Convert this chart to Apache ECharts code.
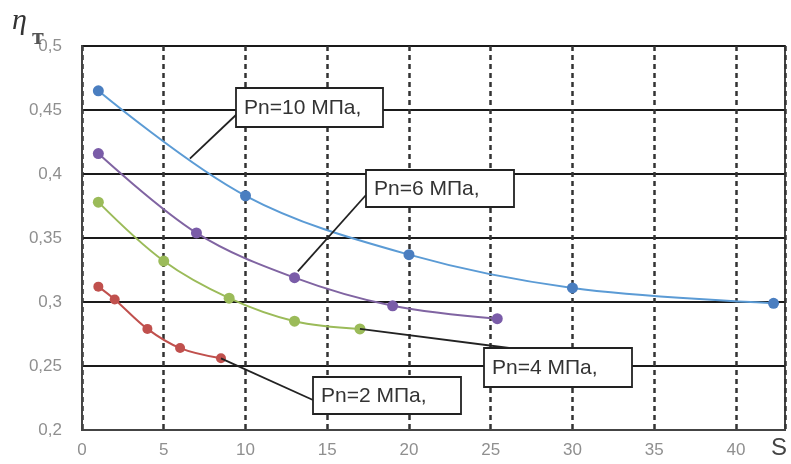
<!DOCTYPE html>
<html>
<head>
<meta charset="utf-8">
<script src="https://cdn.jsdelivr.net/npm/echarts@6/dist/echarts.min.js"></script>
<style>
  html, body { margin: 0; padding: 0; background: #ffffff; }
  #chart { width: 791px; height: 464px; }
</style>
</head>
<body>
<div id="chart"></div>
<script>
// Efficiency ηт versus S for four pressure levels
const seriesNames = ['Pn=10 МПа,', 'Pn=6 МПа,', 'Pn=4 МПа,', 'Pn=2 МПа,'];

const p10 = [[1, 0.465], [10, 0.383], [20, 0.337], [30, 0.311], [42.3, 0.299]];
const p6  = [[1, 0.416], [7, 0.354], [13, 0.319], [19, 0.297], [25.4, 0.287]];
const p4  = [[1, 0.378], [5, 0.332], [9, 0.303], [13, 0.285], [17, 0.279]];
const p2  = [[1, 0.312], [2, 0.302], [4, 0.279], [6, 0.264], [8.5, 0.256]];

// Points on each curve where the callout leaders start (data units)
const leaderAnchors = [[6.6, 0.412], [13.2, 0.324], [17, 0.279], [8.5, 0.256]];

const seriesData = [p10, p6, p4, p2];
const lineColors = ['#5b9bd5', '#8064a2', '#9bbb59', '#c0504d'];
const markerColors = ['#4a7ec0', '#7a5ca8', '#9bbb59', '#c0504d'];

// Callout boxes: [left, top, width, height] and leader end point, in pixels
const calloutBoxes = [
  { box: [236, 88, 147, 39], end: [237, 114] },
  { box: [366, 170, 148, 37], end: [366, 195] },
  { box: [484, 348, 148, 39], end: [517, 349] },
  { box: [313, 377, 148, 37], end: [313, 400] }
];

const chart = echarts.init(document.getElementById('chart'), null, { renderer: 'canvas' });

const fmtY = v => String(+v.toFixed(2)).replace('.', ',');

chart.setOption({
  animation: false,
  backgroundColor: '#ffffff',
  grid: {
    left: 82, right: 6, top: 46, bottom: 34,
    show: true, borderColor: '#444', borderWidth: 2, backgroundColor: 'transparent'
  },
  xAxis: {
    type: 'value', min: 0, max: 43, interval: 5,
    axisLine: { show: true, lineStyle: { color: '#444', width: 2 } },
    axisTick: { show: false },
    axisLabel: {
      color: '#8f8f8f', fontFamily: 'Liberation Sans, Arial, sans-serif', fontSize: 17, margin: 12,
      formatter: v => (v % 5 === 0 ? String(v) : '')
    },
    splitLine: { show: true, lineStyle: { color: '#333', width: 2.5, type: [5, 4] } }
  },
  yAxis: {
    type: 'value', min: 0.2, max: 0.5, interval: 0.05,
    axisLine: { show: true, lineStyle: { color: '#444', width: 2 } },
    axisTick: { show: false },
    axisLabel: {
      color: '#8f8f8f', fontFamily: 'Liberation Sans, Arial, sans-serif', fontSize: 17, margin: 20,
      formatter: fmtY
    },
    splitLine: { show: true, lineStyle: { color: '#1a1a1a', width: 2 } }
  },
  series: seriesData.map((d, i) => ({
    name: seriesNames[i],
    type: 'line',
    data: d,
    smooth: 0.35,
    symbol: 'circle',
    symbolSize: i === 3 ? 10 : 11,
    lineStyle: { color: lineColors[i], width: 2 },
    itemStyle: { color: markerColors[i] },
    z: 3
  }))
});

// Callouts, leaders and axis titles
const graphics = [];
calloutBoxes.forEach((c, i) => {
  const start = chart.convertToPixel({ gridIndex: 0 }, leaderAnchors[i]);
  graphics.push({
    type: 'line', z: 10,
    shape: { x1: start[0], y1: start[1], x2: c.end[0], y2: c.end[1] },
    style: { stroke: '#222', lineWidth: 1.8 }
  });
  graphics.push({
    type: 'rect', z: 11,
    shape: { x: c.box[0], y: c.box[1], width: c.box[2], height: c.box[3] },
    style: { fill: '#ffffff', stroke: '#222', lineWidth: 1.8 }
  });
  graphics.push({
    type: 'text', z: 12,
    x: c.box[0] + 8, y: c.box[1] + c.box[3] / 2 + 1,
    style: {
      text: seriesNames[i], fill: '#333',
      font: '21px "Liberation Sans", Arial, sans-serif',
      verticalAlign: 'middle', align: 'left'
    }
  });
});

graphics.push({
  type: 'text', z: 12, x: 12, y: 6,
  style: { text: 'η', fill: '#333', font: 'italic 30px "Liberation Serif", serif' }
});
graphics.push({
  type: 'text', z: 12, x: 32, y: 26,
  style: { text: 'т', fill: '#555', font: 'bold 24px "Liberation Serif", serif' }
});
graphics.push({
  type: 'text', z: 12, x: 771, y: 436,
  style: { text: 'S', fill: '#444', font: '24px "Liberation Sans", Arial, sans-serif' }
});

chart.setOption({ graphic: graphics });
</script>
</body>
</html>
